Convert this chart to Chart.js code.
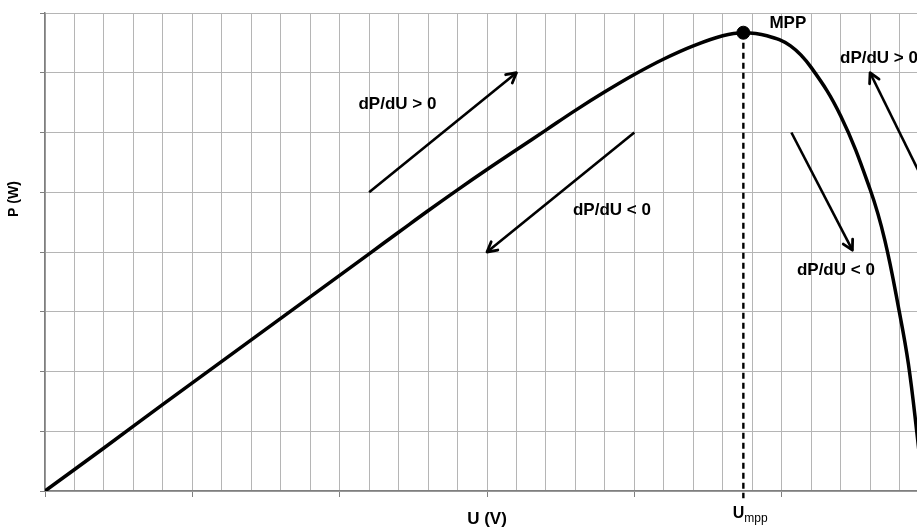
<!DOCTYPE html>
<html lang="en">
<head>
    <meta charset="UTF-8">
    <title>P-U curve with MPP</title>
    <script src="https://cdn.jsdelivr.net/npm/chart.js@4.4.0/dist/chart.umd.min.js"></script>
    <style>
        body {
            margin: 0;
            padding: 0;
            background-color: #fff;
            overflow: hidden;
        }

        .chart-wrap {
            position: relative;
            width: 940px;
            height: 527px;
        }
    </style>
</head>
<body>
    <div class="chart-wrap">
        <canvas id="pvChart" width="940" height="527"></canvas>
    </div>

    <script>
        // P-U curve (units = grid columns / grid rows)
        const voltage = [0, 2, 4, 6, 8, 10, 11, 12, 13, 14, 15, 16, 17, 18, 19, 20, 21, 22, 23, 23.7,
                         24.5, 25.3, 26, 27, 28, 28.5, 29, 29.3, 29.59, 29.8];
        const power = [0, 0.72, 1.45, 2.17, 2.89, 3.61, 3.97, 4.33, 4.69, 5.04, 5.38, 5.71, 6.04, 6.37, 6.68, 6.97, 7.23, 7.45, 7.62, 7.67,
                       7.62, 7.45, 7.09, 6.28, 5.05, 4.2, 2.98, 2.13, 0.97, 0];

        // maximum power point
        const mppU = [23.7];
        const mppP = [7.67];

        // direction arrows: [fromU, fromP, toU, toP]
        const arrowUp = [11, 5, 16, 7];
        const arrowDown = [20, 6, 15, 4];
        const arrowRightDown = [25.33, 6, 27.4, 4.03];
        const arrowRightUp = [30, 5, 28, 7];

        const FONT = '"Liberation Sans", Arial, sans-serif';

        // text labels, anchored in data units
        const notes = [
            { text: 'dP/dU > 0', u: 11.96, p: 6.48, align: 'center' },
            { text: 'dP/dU < 0', u: 19.24, p: 4.69, align: 'center' },
            { text: 'dP/dU < 0', u: 26.84, p: 3.70, align: 'center' },
            { text: 'dP/dU > 0', u: 26.98, p: 7.25, align: 'left' },
            { text: 'MPP', u: 25.21, p: 7.82, align: 'center' }
        ];

        function arrowSet(a) {
            return {
                data: [{ x: a[0], y: a[1] }, { x: a[2], y: a[3] }],
                showLine: true,
                borderColor: '#000',
                borderWidth: 2.6,
                pointRadius: 0,
                arrow: true
            };
        }

        // draws arrow heads, the annotations and the axis captions
        const extras = {
            id: 'extras',
            afterDatasetsDraw(chart) {
                const ctx = chart.ctx;
                const xs = chart.scales.x;
                const ys = chart.scales.y;

                chart.data.datasets.forEach((ds, i) => {
                    if (!ds.arrow) return;
                    const pts = chart.getDatasetMeta(i).data;
                    const a = pts[0], b = pts[1];
                    const ang = Math.atan2(b.y - a.y, b.x - a.x);
                    const len = 11, spread = 0.5;
                    ctx.save();
                    ctx.strokeStyle = '#000';
                    ctx.lineWidth = 2.8;
                    ctx.lineCap = 'round';
                    ctx.lineJoin = 'round';
                    ctx.beginPath();
                    ctx.moveTo(b.x - len * Math.cos(ang - spread), b.y - len * Math.sin(ang - spread));
                    ctx.lineTo(b.x, b.y);
                    ctx.lineTo(b.x - len * Math.cos(ang + spread), b.y - len * Math.sin(ang + spread));
                    ctx.stroke();
                    ctx.restore();
                });

                ctx.save();
                ctx.fillStyle = '#000';
                ctx.textBaseline = 'middle';
                ctx.font = 'bold 17px ' + FONT;
                notes.forEach(n => {
                    ctx.textAlign = n.align;
                    ctx.fillText(n.text, xs.getPixelForValue(n.u), ys.getPixelForValue(n.p));
                });

                // x axis caption
                ctx.textAlign = 'center';
                ctx.textBaseline = 'alphabetic';
                ctx.fillText('U (V)', xs.getPixelForValue(15), 524);

                // U_mpp below the dashed line
                const um = xs.getPixelForValue(mppU[0]);
                ctx.font = 'bold 16px ' + FONT;
                ctx.textAlign = 'right';
                ctx.fillText('U', um + 1, 518);
                ctx.font = '12px ' + FONT;
                ctx.textAlign = 'left';
                ctx.fillText('mpp', um + 1, 522);

                // y axis caption
                ctx.translate(14, 199);
                ctx.rotate(-Math.PI / 2);
                ctx.font = 'bold 14px ' + FONT;
                ctx.textAlign = 'center';
                ctx.textBaseline = 'middle';
                ctx.fillText('P (W)', 0, 0);
                ctx.restore();
            }
        };

        const curve = voltage.map((u, i) => ({ x: u, y: power[i] }));

        new Chart(document.getElementById('pvChart'), {
            type: 'scatter',
            data: {
                datasets: [
                    {
                        data: mppU.map((u, i) => ({ x: u, y: mppP[i] })),
                        pointRadius: 6.5,
                        pointBackgroundColor: '#000',
                        pointBorderColor: '#000',
                        clip: false
                    },
                    {
                        data: curve,
                        showLine: true,
                        borderColor: '#000',
                        borderWidth: 3.5,
                        pointRadius: 0,
                        tension: 0.4
                    },
                    {
                        data: [{ x: mppU[0], y: mppP[0] }, { x: mppU[0], y: -0.12 }],
                        showLine: true,
                        borderColor: '#000',
                        borderWidth: 2.4,
                        borderDash: [6, 4],
                        pointRadius: 0,
                        clip: false
                    },
                    arrowSet(arrowUp),
                    arrowSet(arrowDown),
                    arrowSet(arrowRightDown),
                    arrowSet(arrowRightUp)
                ]
            },
            options: {
                responsive: false,
                animation: false,
                layout: {
                    padding: { top: 13, right: 11, left: 0, bottom: 0 }
                },
                plugins: {
                    legend: { display: false },
                    tooltip: { enabled: false }
                },
                scales: {
                    x: {
                        type: 'linear',
                        min: 0,
                        max: 30,
                        ticks: { stepSize: 1, display: false },
                        grid: {
                            color: '#b5b5b5',
                            lineWidth: 1,
                            tickLength: 6,
                            tickColor: c => (c.tick && c.tick.value % 5 === 0) ? '#7f7f7f' : 'rgba(0,0,0,0)'
                        },
                        border: { color: '#7f7f7f', width: 1.5 },
                        afterFit: s => { s.height = 36; }
                    },
                    y: {
                        type: 'linear',
                        min: 0,
                        max: 8,
                        ticks: { stepSize: 1, display: false },
                        grid: {
                            color: '#b5b5b5',
                            lineWidth: 1,
                            tickLength: 5,
                            tickColor: '#7f7f7f'
                        },
                        border: { color: '#7f7f7f', width: 1.5 },
                        afterFit: s => { s.width = 45; }
                    }
                }
            },
            plugins: [extras]
        });
    </script>
</body>
</html>
